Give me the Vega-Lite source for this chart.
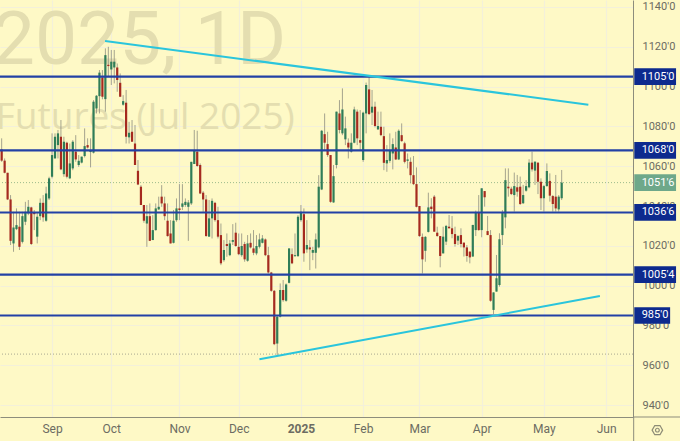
{"$schema":"https://vega.github.io/schema/vega-lite/v6.json","width":633,"height":417,"autosize":"none","padding":{"left":0,"top":0,"right":47,"bottom":24},"background":"#fef9c6","config":{"view":{"stroke":null}},
"datasets":{"candles":[
{"i":0,"o":1068.4,"h":1074,"l":1062.2,"c":1062.8},{"i":1,"o":1062.8,"h":1063.9,"l":1056.4,"c":1056.7},{"i":2,"o":1056.7,"h":1056.7,"l":1043,"c":1043.3},{"i":3,"o":1043.3,"h":1045.5,"l":1020.4,"c":1022.5},{"i":4,"o":1021.2,"h":1037.1,"l":1017,"c":1029.2},{"i":5,"o":1028.4,"h":1038.8,"l":1027.9,"c":1030.4},{"i":6,"o":1029.6,"h":1037.1,"l":1017.9,"c":1019.5},{"i":7,"o":1022,"h":1037.1,"l":1021.2,"c":1034.9},{"i":8,"o":1032.1,"h":1042.1,"l":1030.4,"c":1037.1},{"i":9,"o":1036.3,"h":1043,"l":1035.4,"c":1039.6},
{"i":10,"o":1039.3,"h":1039.6,"l":1020.4,"c":1020.9},{"i":11,"o":1036.6,"h":1038,"l":1027.9,"c":1035.9},{"i":12,"o":1024.6,"h":1036.6,"l":1021.2,"c":1034.6},{"i":13,"o":1034.9,"h":1043.8,"l":1032.9,"c":1041.6},{"i":14,"o":1041.6,"h":1045.5,"l":1032.1,"c":1034.3},{"i":15,"o":1032.6,"h":1049.7,"l":1032.1,"c":1046.3},{"i":16,"o":1043.8,"h":1054.7,"l":1043,"c":1053.9},{"i":17,"o":1054.7,"h":1076.5,"l":1053.9,"c":1065.6},{"i":18,"o":1063.9,"h":1076.5,"l":1063.9,"c":1074.8},{"i":19,"o":1070.6,"h":1078.2,"l":1063.9,"c":1076.5},
{"i":20,"o":1074.8,"h":1083.2,"l":1058,"c":1058.4},{"i":21,"o":1056,"h":1074.8,"l":1054.7,"c":1072.3},{"i":22,"o":1071.8,"h":1072.3,"l":1053.9,"c":1054.7},{"i":23,"o":1053.9,"h":1071.4,"l":1053.5,"c":1061.4},{"i":24,"o":1058.9,"h":1073.1,"l":1058,"c":1072.3},{"i":25,"o":1067.3,"h":1075.6,"l":1062.2,"c":1063.4},{"i":26,"o":1060.6,"h":1065.6,"l":1059.7,"c":1062.7},{"i":27,"o":1061.8,"h":1064.8,"l":1061.4,"c":1064.8},{"i":28,"o":1065.1,"h":1079,"l":1064.4,"c":1070.1},{"i":29,"o":1070.6,"h":1074,"l":1068.9,"c":1069.4},
{"i":30,"o":1067.1,"h":1074,"l":1059.4,"c":1067.8},{"i":31,"o":1066.8,"h":1093.2,"l":1066.4,"c":1092.4},{"i":32,"o":1089,"h":1095.7,"l":1086.5,"c":1095.4},{"i":33,"o":1095.2,"h":1108.3,"l":1086.5,"c":1107},{"i":34,"o":1104.6,"h":1108.3,"l":1093.6,"c":1094.9},{"i":35,"o":1093.7,"h":1119.2,"l":1087.4,"c":1115.8},{"i":36,"o":1111,"h":1120,"l":1105,"c":1110.3},{"i":37,"o":1108.6,"h":1118.4,"l":1100.8,"c":1112.5},{"i":38,"o":1109.6,"h":1118.4,"l":1101.6,"c":1112.5},{"i":39,"o":1109.6,"h":1111.6,"l":1097.4,"c":1103.3},
{"i":40,"o":1101.9,"h":1106.6,"l":1094.9,"c":1094.9},{"i":41,"o":1090.9,"h":1095.7,"l":1090.4,"c":1092.7},{"i":42,"o":1091.9,"h":1098.3,"l":1071.4,"c":1074.8},{"i":43,"o":1074.5,"h":1082.3,"l":1071.4,"c":1076.8},{"i":44,"o":1077.3,"h":1083.2,"l":1072.3,"c":1072.3},{"i":45,"o":1071.4,"h":1080.7,"l":1060.6,"c":1060.6},{"i":46,"o":1057.7,"h":1063.1,"l":1050.5,"c":1050.8},{"i":47,"o":1049.7,"h":1050.5,"l":1040.5,"c":1040.5},{"i":48,"o":1040.5,"h":1040.5,"l":1031.6,"c":1032.6},{"i":49,"o":1031.2,"h":1040.5,"l":1019.5,"c":1034.9},
{"i":50,"o":1034.9,"h":1041.3,"l":1022.4,"c":1022.5},{"i":51,"o":1022.9,"h":1035.4,"l":1022.9,"c":1027.9},{"i":52,"o":1027.9,"h":1041.3,"l":1027.6,"c":1038.8},{"i":53,"o":1038.3,"h":1044.7,"l":1038,"c":1039.6},{"i":54,"o":1044.7,"h":1050.5,"l":1039.6,"c":1041.3},{"i":55,"o":1041.3,"h":1044.7,"l":1032.9,"c":1034.9},{"i":56,"o":1032.6,"h":1041.3,"l":1024.6,"c":1024.9},{"i":57,"o":1026.2,"h":1032.9,"l":1021.2,"c":1021.2},{"i":58,"o":1021.5,"h":1038,"l":1021.2,"c":1032.6},{"i":59,"o":1032.9,"h":1043.8,"l":1032.1,"c":1038.8},
{"i":60,"o":1038.8,"h":1051,"l":1032.9,"c":1038},{"i":61,"o":1039.6,"h":1051,"l":1038,"c":1041.3},{"i":62,"o":1040.5,"h":1043.8,"l":1039.6,"c":1042.1},{"i":63,"o":1039.6,"h":1043,"l":1022.5,"c":1041.8},{"i":64,"o":1041.3,"h":1062.2,"l":1040.5,"c":1062.2},{"i":65,"o":1061.1,"h":1078.2,"l":1061.1,"c":1067.8},{"i":66,"o":1067.3,"h":1077.8,"l":1059.7,"c":1060.1},{"i":67,"o":1060.6,"h":1061.4,"l":1046,"c":1046.3},{"i":68,"o":1046.7,"h":1047.5,"l":1037.1,"c":1043.3},{"i":69,"o":1043.3,"h":1045.5,"l":1024.6,"c":1024.9},
{"i":70,"o":1024.6,"h":1043,"l":1024.6,"c":1033.8},{"i":71,"o":1033.8,"h":1043.8,"l":1023.7,"c":1042.6},{"i":72,"o":1041.6,"h":1042.1,"l":1032.1,"c":1032.9},{"i":73,"o":1032.9,"h":1039.6,"l":1023.7,"c":1024.6},{"i":74,"o":1025.4,"h":1031.2,"l":1010.3,"c":1011.2},{"i":75,"o":1012.8,"h":1022.9,"l":1012,"c":1017.9},{"i":76,"o":1020.9,"h":1026.2,"l":1014.5,"c":1019.9},{"i":77,"o":1015.3,"h":1022.9,"l":1014.8,"c":1021.2},{"i":78,"o":1022,"h":1030.9,"l":1020.4,"c":1022.9},{"i":79,"o":1026.6,"h":1031.6,"l":1019.5,"c":1019.9},
{"i":80,"o":1019.5,"h":1026.2,"l":1015.3,"c":1015.8},{"i":81,"o":1015.3,"h":1026.2,"l":1014.5,"c":1019.9},{"i":82,"o":1020.9,"h":1022,"l":1012,"c":1013.2},{"i":83,"o":1012.5,"h":1025.4,"l":1012,"c":1021.2},{"i":84,"o":1021.5,"h":1026.2,"l":1018.7,"c":1019.2},{"i":85,"o":1018.7,"h":1027.9,"l":1015.3,"c":1016.5},{"i":86,"o":1016.2,"h":1025.4,"l":1015.3,"c":1019.9},{"i":87,"o":1019.5,"h":1026.2,"l":1018.7,"c":1023.2},{"i":88,"o":1021.5,"h":1025.4,"l":1021.2,"c":1023.7},{"i":89,"o":1023.2,"h":1023.7,"l":1014.8,"c":1015.3},
{"i":90,"o":1015.3,"h":1019.5,"l":1006.1,"c":1006.6},{"i":91,"o":1006.6,"h":1006.9,"l":996.9,"c":997.4},{"i":92,"o":997.4,"h":997.8,"l":970.1,"c":970.6},{"i":93,"o":970.9,"h":985.2,"l":965.1,"c":984.4},{"i":94,"o":984.4,"h":1001.1,"l":984,"c":997.8},{"i":95,"o":997.8,"h":1002.8,"l":991.9,"c":992.7},{"i":96,"o":992.4,"h":1001.1,"l":991.9,"c":1000.6},{"i":97,"o":1001.4,"h":1018.7,"l":1001.1,"c":1018.7},{"i":98,"o":1015.8,"h":1018.7,"l":1010.8,"c":1011.2},{"i":99,"o":1014.8,"h":1026.2,"l":1014.5,"c":1015.3},
{"i":100,"o":1014.8,"h":1035.4,"l":1014.5,"c":1034.6},{"i":101,"o":1032.9,"h":1040.5,"l":1032.1,"c":1037.1},{"i":102,"o":1035.9,"h":1038.8,"l":1012,"c":1016.2},{"i":103,"o":1018.2,"h":1032.9,"l":1016.5,"c":1020.4},{"i":104,"o":1019.2,"h":1022.9,"l":1007.8,"c":1018.2},{"i":105,"o":1016.5,"h":1019.5,"l":1012.8,"c":1017.9},{"i":106,"o":1016.5,"h":1026.2,"l":1008.6,"c":1023.2},{"i":107,"o":1019.2,"h":1055.5,"l":1018.7,"c":1049.7},{"i":108,"o":1048.3,"h":1078.2,"l":1048,"c":1077.8},{"i":109,"o":1076.1,"h":1086.5,"l":1068.1,"c":1071.8},
{"i":110,"o":1071.1,"h":1077.3,"l":1064.7,"c":1065.6},{"i":111,"o":1065.6,"h":1065.6,"l":1041.6,"c":1042.1},{"i":112,"o":1041.8,"h":1060.6,"l":1041.6,"c":1055},{"i":113,"o":1060.6,"h":1087.4,"l":1058.9,"c":1087.4},{"i":114,"o":1086.5,"h":1093.2,"l":1076.5,"c":1078.2},{"i":115,"o":1076.5,"h":1099.1,"l":1075.6,"c":1088.5},{"i":116,"o":1073.5,"h":1084.9,"l":1070.6,"c":1079},{"i":117,"o":1071.8,"h":1074,"l":1063.9,"c":1069.4},{"i":118,"o":1067.3,"h":1076.5,"l":1066.8,"c":1071.8},{"i":119,"o":1071.8,"h":1089.9,"l":1071.5,"c":1088.5},
{"i":120,"o":1087.4,"h":1088.5,"l":1070.6,"c":1074},{"i":121,"o":1073.1,"h":1088.2,"l":1068.1,"c":1071.8},{"i":122,"o":1063.1,"h":1087.4,"l":1062.2,"c":1086.9},{"i":123,"o":1086.5,"h":1102,"l":1076.5,"c":1100.8},{"i":124,"o":1098.6,"h":1105,"l":1085.7,"c":1086.2},{"i":125,"o":1086.9,"h":1098.3,"l":1080.7,"c":1089.9},{"i":126,"o":1089.9,"h":1092.4,"l":1079.5,"c":1080.2},{"i":127,"o":1078.5,"h":1087.4,"l":1078.2,"c":1080.2},{"i":128,"o":1079.8,"h":1087.4,"l":1075.1,"c":1075.6},{"i":129,"o":1075.1,"h":1079.8,"l":1058,"c":1061.7},
{"i":130,"o":1061.4,"h":1070.6,"l":1057.2,"c":1063.1},{"i":131,"o":1062.7,"h":1076.5,"l":1061.7,"c":1068.1},{"i":132,"o":1066.4,"h":1074,"l":1058.4,"c":1071.1},{"i":133,"o":1069.4,"h":1077.3,"l":1063.1,"c":1063.4},{"i":134,"o":1063.4,"h":1078.5,"l":1063.1,"c":1077.8},{"i":135,"o":1075.6,"h":1081.5,"l":1072.3,"c":1072.6},{"i":136,"o":1071.5,"h":1072.3,"l":1061.4,"c":1062.2},{"i":137,"o":1062.7,"h":1066.4,"l":1058.9,"c":1063.4},{"i":138,"o":1062.2,"h":1064.4,"l":1051.4,"c":1055.5},{"i":139,"o":1055.5,"h":1065.1,"l":1050.5,"c":1051},
{"i":140,"o":1051,"h":1059.4,"l":1039.3,"c":1039.6},{"i":141,"o":1040,"h":1040,"l":1024.5,"c":1024.9},{"i":142,"o":1024.5,"h":1026.2,"l":1006.1,"c":1013.2},{"i":143,"o":1017.5,"h":1024.9,"l":1012,"c":1024.5},{"i":144,"o":1027,"h":1046.7,"l":1026.7,"c":1039.3},{"i":145,"o":1039.7,"h":1043.9,"l":1033.8,"c":1038.5},{"i":146,"o":1044.7,"h":1045.5,"l":1027.1,"c":1027.1},{"i":147,"o":1026.6,"h":1029.6,"l":1024.6,"c":1024.9},{"i":148,"o":1024.9,"h":1024.9,"l":1009.2,"c":1014.9},{"i":149,"o":1016.2,"h":1029.6,"l":1016.2,"c":1024.6},
{"i":150,"o":1022.1,"h":1030.5,"l":1020.4,"c":1030},{"i":151,"o":1029.6,"h":1035.5,"l":1028.8,"c":1028.8},{"i":152,"o":1028.8,"h":1035,"l":1023.8,"c":1025.9},{"i":153,"o":1025.9,"h":1029.6,"l":1019.6,"c":1020.9},{"i":154,"o":1022.6,"h":1025.4,"l":1020.4,"c":1024.9},{"i":155,"o":1025.4,"h":1028.8,"l":1019.2,"c":1020.9},{"i":156,"o":1021.6,"h":1021.6,"l":1014.6,"c":1019.2},{"i":157,"o":1019.2,"h":1020.4,"l":1012,"c":1014.9},{"i":158,"o":1017.1,"h":1017.1,"l":1011.2,"c":1014.2},{"i":159,"o":1014.6,"h":1030.5,"l":1014.6,"c":1030.5},
{"i":160,"o":1027.9,"h":1037.7,"l":1024.9,"c":1036.7},{"i":161,"o":1036.7,"h":1045.5,"l":1027.6,"c":1027.9},{"i":162,"o":1027.9,"h":1048.9,"l":1024.3,"c":1048.9},{"i":163,"o":1047.5,"h":1047.5,"l":1039.7,"c":1044.4},{"i":164,"o":1027.4,"h":1035,"l":1025.4,"c":1025.4},{"i":165,"o":1025.4,"h":1027.9,"l":991.9,"c":992.4},{"i":166,"o":987.8,"h":996.6,"l":985.7,"c":996.6},{"i":167,"o":997,"h":1015.4,"l":997,"c":1003.7},{"i":168,"o":1000.3,"h":1026.3,"l":999.5,"c":1023.3},{"i":169,"o":1025.4,"h":1038,"l":1020.4,"c":1036.7},
{"i":170,"o":1034.3,"h":1058.9,"l":1028.8,"c":1053},{"i":171,"o":1049.7,"h":1058.9,"l":1044.7,"c":1048.9},{"i":172,"o":1048.7,"h":1049.7,"l":1045.5,"c":1046},{"i":173,"o":1045.5,"h":1056.8,"l":1037.2,"c":1050},{"i":174,"o":1049.4,"h":1055.6,"l":1044.7,"c":1047.2},{"i":175,"o":1049.7,"h":1054.8,"l":1040.5,"c":1041},{"i":176,"o":1041.4,"h":1050.6,"l":1041,"c":1045.5},{"i":177,"o":1047.7,"h":1053,"l":1047.2,"c":1050},{"i":178,"o":1049.4,"h":1063.5,"l":1048.9,"c":1061.8},{"i":179,"o":1061.8,"h":1067.3,"l":1057.3,"c":1058.4},
{"i":180,"o":1057.8,"h":1062.3,"l":1050.6,"c":1062.3},{"i":181,"o":1061.8,"h":1061.8,"l":1046,"c":1052.2},{"i":182,"o":1052.2,"h":1053.9,"l":1038,"c":1043.9},{"i":183,"o":1043.9,"h":1050.6,"l":1037.2,"c":1050},{"i":184,"o":1050,"h":1061.4,"l":1049.7,"c":1057.6},{"i":185,"o":1052.6,"h":1056.4,"l":1042.2,"c":1045.2},{"i":186,"o":1045,"h":1045.5,"l":1037.2,"c":1041},{"i":187,"o":1044.7,"h":1055.6,"l":1037.2,"c":1038.8},{"i":188,"o":1038.3,"h":1045.5,"l":1037.2,"c":1044.7},{"i":189,"o":1043.9,"h":1058.1,"l":1043,"c":1051.75}
],
"levels":[{"price":1105,"lab":"1105'0","top":1109.2,"bot":1100.8,"end":227.6},{"price":1068,"lab":"1068'0","top":1072.2,"bot":1063.8,"end":227.6},{"price":1036.75,"lab":"1036'6","top":1040.95,"bot":1032.55,"end":227.6},{"price":1005.5,"lab":"1005'4","top":1009.7,"bot":1001.3,"end":227.6},{"price":985,"lab":"985'0","top":989.2,"bot":980.8,"end":225.6}],
"trends":[{"t":"upper","i":34.9,"price":1122.9},{"t":"upper","i":198,"price":1090.9},{"t":"lower","i":87,"price":963},{"t":"lower","i":201.9,"price":994.8}],
"marks":[{"label":"2025, 1D","i":-3,"price":1111.5,"size":75},{"label":"Futures (Jul 2025)","i":-2,"price":1078.5,"size":37}]},
"layer":[
{"data":{"name":"marks"},"transform":[{"filter":"datum.size==75"}],"mark":{"type":"text","font":"Roboto","fontSize":75,"align":"left","baseline":"alphabetic","color":"#e4deb0","clip":true},"encoding":{"x":{"field":"i","type":"quantitative","title":null,"scale":{"domain":[-0.564,213.07],"nice":false,"zero":false},"axis":{"orient":"bottom","values":[17,37,60,80,101,122,141,162,183,204],"labelExpr":"['Sep','Oct','Nov','Dec','2025','Feb','Mar','Apr','May','Jun'][indexof([17,37,60,80,101,122,141,162,183,204],datum.value)]","grid":true,"gridColor":"#f3f0da","gridWidth":1.2,"domainColor":"#8d8d7c","domainWidth":1,"ticks":false,"labelPadding":6,"labelColor":"#6c6c62","labelFont":"Roboto","labelFontSize":12,"labelFontWeight":{"condition":{"test":"datum.value==101","value":"bold"},"value":"normal"},"labelFlush":false}},"y":{"field":"price","type":"quantitative","title":null,"scale":{"domain":[934,1143.5],"nice":false,"zero":false},"axis":{"orient":"right","values":[940,960,980,1000,1020,1040,1060,1080,1100,1120,1140],"labelExpr":"datum.value+\"'0\"","grid":true,"gridColor":"#f3f0da","gridWidth":1.2,"domainColor":"#8d8d7c","domainWidth":1,"ticks":false,"labelPadding":9,"labelColor":"#6c6c62","labelFont":"Roboto","labelFontSize":11}},"text":{"field":"label"}}},
{"data":{"name":"marks"},"transform":[{"filter":"datum.size==37"}],"mark":{"type":"text","font":"Open Sans","fontSize":37,"align":"left","baseline":"alphabetic","color":"#e4deb0","clip":true},"encoding":{"x":{"field":"i","type":"quantitative"},"y":{"field":"price","type":"quantitative"},"text":{"field":"label"}}},
{"data":{"values":[{"price":965.6}]},"mark":{"type":"rule","color":"#a8a890","strokeWidth":1,"strokeDash":[1,2]},"encoding":{"y":{"field":"price","type":"quantitative"}}},
{"data":{"values":[{"price":1051.75}]},"mark":{"type":"rule","color":"#9dbb8c","strokeWidth":1,"strokeDash":[1,2]},"encoding":{"y":{"field":"price","type":"quantitative"}}},
{"data":{"name":"candles"},"mark":{"type":"rule","color":"#8f8f80","strokeWidth":1,"opacity":0.8},"encoding":{"x":{"field":"i","type":"quantitative"},"y":{"field":"l","type":"quantitative"},"y2":{"field":"h"}}},
{"data":{"name":"candles"},"mark":{"type":"rule","strokeWidth":2.2},"encoding":{"x":{"field":"i","type":"quantitative"},"y":{"field":"o","type":"quantitative"},"y2":{"field":"c"},"color":{"condition":{"test":"datum.c>=datum.o","value":"#2f7d58"},"value":"#a52a1f"}}},
{"data":{"name":"levels"},"mark":{"type":"rule","color":"#2241a5","strokeWidth":2.2},"encoding":{"y":{"field":"price","type":"quantitative"}}},
{"data":{"name":"trends"},"mark":{"type":"line","color":"#2ac5dc","strokeWidth":2},"encoding":{"x":{"field":"i","type":"quantitative"},"y":{"field":"price","type":"quantitative"},"detail":{"field":"t"}}},
{"data":{"values":[{"a":213.3,"b":213.3,"p1":934,"p2":921.9}]},"mark":{"type":"rule","color":"#8d8d7c","strokeWidth":1},"encoding":{"x":{"field":"a","type":"quantitative"},"y":{"field":"p1","type":"quantitative"},"y2":{"field":"p2"}}},
{"data":{"values":[{"a":213.07,"b":229.5,"p":934}]},"mark":{"type":"rule","color":"#8d8d7c","strokeWidth":1},"encoding":{"x":{"field":"a","type":"quantitative"},"x2":{"field":"b"},"y":{"field":"p","type":"quantitative"}}},
{"data":{"name":"levels"},"transform":[{"calculate":"213.5","as":"start"}],"mark":{"type":"rect","color":"#0d2a8e","clip":false},"encoding":{"x":{"field":"start","type":"quantitative"},"x2":{"field":"end"},"y":{"field":"top","type":"quantitative"},"y2":{"field":"bot"}}},
{"data":{"values":[{"a":213.5,"b":227.6,"top":1056,"bot":1047.5}]},"mark":{"type":"rect","color":"#6ea88a"},"encoding":{"x":{"field":"a","type":"quantitative"},"x2":{"field":"b"},"y":{"field":"top","type":"quantitative"},"y2":{"field":"bot"}}},
{"data":{"name":"levels"},"transform":[{"calculate":"216","as":"tx"}],"mark":{"type":"text","align":"left","baseline":"middle","font":"Roboto","fontSize":11,"color":"#ffffff"},"encoding":{"x":{"field":"tx","type":"quantitative"},"y":{"field":"price","type":"quantitative"},"text":{"field":"lab"}}},
{"data":{"values":[{"tx":216,"price":1051.75,"lab":"1051'6"}]},"mark":{"type":"text","align":"left","baseline":"middle","font":"Roboto","fontSize":11,"color":"#ffffff"},"encoding":{"x":{"field":"tx","type":"quantitative"},"y":{"field":"price","type":"quantitative"},"text":{"field":"lab"}}},
{"data":{"values":[{"i":221.3,"price":927.4}]},"mark":{"type":"point","shape":"M-1,0L-0.5,-0.87L0.5,-0.87L1,0L0.5,0.87L-0.5,0.87Z","filled":false,"size":110,"color":"#5e5e55","strokeWidth":1.2},"encoding":{"x":{"field":"i","type":"quantitative"},"y":{"field":"price","type":"quantitative"}}},
{"data":{"values":[{"i":221.3,"price":927.4}]},"mark":{"type":"point","shape":"circle","filled":false,"size":14,"color":"#5e5e55","strokeWidth":1.2},"encoding":{"x":{"field":"i","type":"quantitative"},"y":{"field":"price","type":"quantitative"}}}
]}
